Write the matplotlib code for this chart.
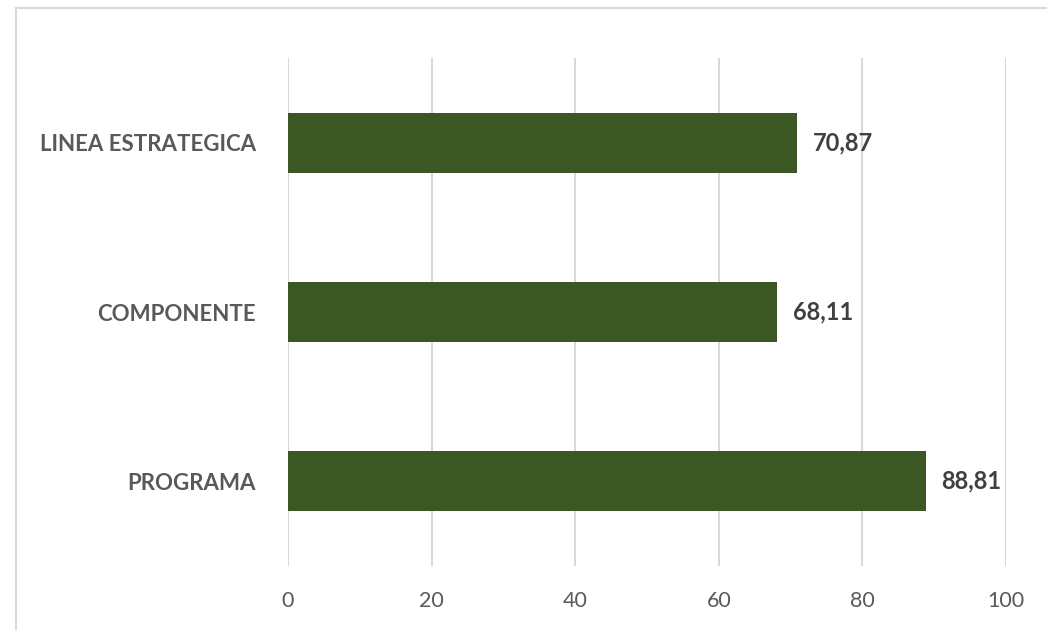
import matplotlib
matplotlib.use("Agg")
import matplotlib.pyplot as plt
from matplotlib.patches import Rectangle

categories = ["PROGRAMA", "COMPONENTE", "LINEA ESTRATEGICA"]
values = [88.81, 68.11, 70.87]
value_labels = ["88,81", "68,11", "70,87"]
x_ticks = [0, 20, 40, 60, 80, 100]

plt.rcParams['font.family'] = ['Lato', 'DejaVu Sans']

W, H = 1047, 630
fig = plt.figure(figsize=(W/100, H/100), dpi=100)
ax = fig.add_axes([288/W, 1-566/H, (1006-288)/W, (566-58)/H])

y = list(range(len(categories)))
ax.barh(y, values, height=0.355, color="#3A5724", zorder=3)
ax.set_xlim(0, 100)
ax.set_ylim(-0.5, len(categories)-0.5)
ax.set_xticks(x_ticks)
ax.set_xticklabels([str(t) for t in x_ticks], fontsize=15.5, color="#595959")
ax.set_yticks(y)
ax.set_yticklabels(categories, fontsize=16, fontweight="bold", color="#595959")
ax.tick_params(axis='both', length=0)
ax.tick_params(axis='x', pad=18)
ax.tick_params(axis='y', pad=23)
ax.grid(axis='x', color="#D9D9D9", linewidth=1.5, zorder=0)
for s in ax.spines.values():
    s.set_visible(False)

for yi, v, lab in zip(y, values, value_labels):
    ax.text(v + 2.2, yi, lab, va='center', ha='left', fontsize=17,
            fontweight='bold', color="#404040")

fig.patches.append(Rectangle((16/W, -0.1), 1.2, 1-8/H+0.1, transform=fig.transFigure,
                             fill=False, edgecolor="#D9D9D9", linewidth=1.5))

fig.savefig("out.png", dpi=100)
